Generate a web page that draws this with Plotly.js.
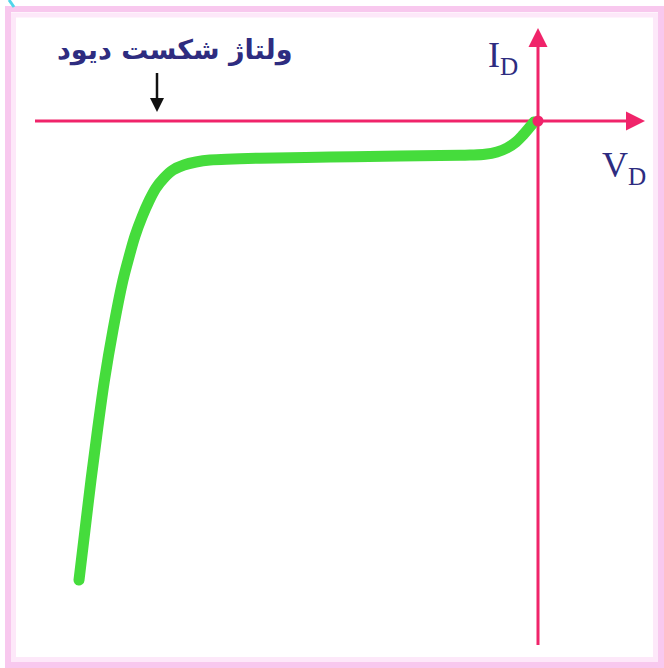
<!DOCTYPE html>
<html>
<head>
<meta charset="utf-8">
<script src="https://cdn.plot.ly/plotly-3.0.1.min.js"></script>
<style>
html,body{margin:0;padding:0;background:#fff;}
#chart{width:664px;height:668px;}
.scatterlayer .js-line{stroke-linecap:round;stroke-linejoin:round;}
</style>
</head>
<body>
<div id="chart"></div>
<script>
// Reverse-bias characteristic of a diode (arbitrary units)
const vD = [-45.9, -45.3, -44.7, -44.05, -43.35, -42.5, -41.5, -40.9, -40.3, -39.6, -38.9, -38.2, -37.4, -36.5, -35.4, -34.2, -32.8, -30.5, -27.8, -20.8, -13.8, -7.8, -6.8, -5.3, -4.1, -3.1, -2.2, -1.5, -0.9, -0.4];
const iD = [-45.9, -40.9, -35.9, -30.9, -25.9, -20.9, -15.9, -13.6, -11.5, -9.6, -8.0, -6.7, -5.7, -4.9, -4.4, -4.1, -3.9, -3.8, -3.72, -3.6, -3.5, -3.43, -3.4, -3.33, -3.1, -2.7, -2.1, -1.4, -0.7, -0.1];
const breakdownLabel = "ولتاژ شکست دیود";
const xAxisLabel = "V<sub>D</sub>";
const yAxisLabel = "I<sub>D</sub>";

const axisColor = "#f0246a";
const navy = "#2e2c80";

const traces = [
  {
    x: vD, y: iD, mode: "lines", type: "scatter",
    line: {color: "#45dc3c", width: 11, shape: "spline", smoothing: 1.0},
    hoverinfo: "skip"
  },
  {
    // origin dot and arrow heads
    x: [0, 10.7, 0, -38.1], y: [0, 0, 9.3, 0.9], mode: "markers", type: "scatter",
    marker: {
      color: [axisColor, axisColor, axisColor, "#111111"],
      size: [11, 19, 19, 14],
      symbol: ["circle", "arrow-right", "arrow-up", "arrow-down"],
      opacity: 1,
      line: {width: 0}
    },
    hoverinfo: "skip"
  }
];

function px2paperY(p){ return 1 - p/668; }
function px2paperX(p){ return p/664; }

const layout = {
  width: 664, height: 668,
  margin: {l:0, r:0, t:0, b:0},
  paper_bgcolor: "#ffffff",
  plot_bgcolor: "rgba(0,0,0,0)",
  showlegend: false,
  xaxis: {range: [-53.8, 12.6], visible: false, fixedrange: true},
  yaxis: {range: [-54.7, 12.1], visible: false, fixedrange: true},
  shapes: [
    {type: "rect", xref: "paper", yref: "paper",
     x0: px2paperX(8), x1: px2paperX(661), y0: px2paperY(665), y1: px2paperY(9),
     line: {color: "#f8c8ee", width: 6}, layer: "below"},
    {type: "rect", xref: "paper", yref: "paper",
     x0: px2paperX(13.5), x1: px2paperX(655.5), y0: px2paperY(659.5), y1: px2paperY(15),
     line: {color: "#fde8f9", width: 5}, layer: "below"},
    {type: "line", xref: "paper", yref: "paper",
     x0: px2paperX(9), x1: px2paperX(14), y0: px2paperY(0), y1: px2paperY(7),
     line: {color: "#4fd6ea", width: 3}},
    // axes
    {type: "line", xref: "x", yref: "y", x0: -50.3, x1: 9.6, y0: 0, y1: 0,
     line: {color: axisColor, width: 3}, layer: "below"},
    {type: "line", xref: "x", yref: "y", x0: 0, x1: 0, y0: -52.4, y1: 8.0,
     line: {color: axisColor, width: 3}, layer: "below"},
    // breakdown pointer shaft
    {type: "line", xref: "x", yref: "y", x0: -38.1, x1: -38.1, y0: 4.8, y1: 1.8,
     line: {color: "#111111", width: 2.5}}
  ],
  annotations: [
    {x: -36.3, y: 7.1, xref: "x", yref: "y", showarrow: false,
     text: "<b>" + breakdownLabel + "</b>",
     font: {family: "DejaVu Sans", size: 27, color: navy}},
    {x: -3.5, y: 6.4, xref: "x", yref: "y", showarrow: false,
     text: yAxisLabel,
     font: {family: "Liberation Serif", size: 36, color: navy}},
    {x: 8.6, y: -4.6, xref: "x", yref: "y", showarrow: false,
     text: xAxisLabel,
     font: {family: "Liberation Serif", size: 36, color: navy}}
  ]
};

Plotly.newPlot("chart", traces, layout, {displayModeBar: false, staticPlot: true});
</script>
</body>
</html>
